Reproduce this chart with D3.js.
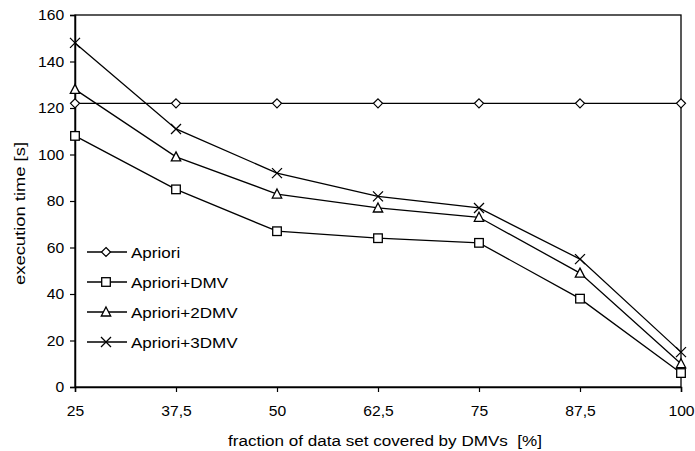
<!DOCTYPE html>
<html>
<head>
<meta charset="utf-8">
<script src="https://cdn.jsdelivr.net/npm/d3@7"></script>
<style>
  body { margin: 0; background: #fff; }
  text { font-family: "Liberation Sans", Arial, sans-serif; fill: #000; }
</style>
</head>
<body>
<div id="chart"></div>
<script>
var fractions = ["25", "37,5", "50", "62,5", "75", "87,5", "100"];
var apriori = [122, 122, 122, 122, 122, 122, 122];
var aprioriDMV = [108, 85, 67, 64, 62, 38, 6];
var apriori2DMV = [128, 99, 83, 77, 73, 49, 10];
var apriori3DMV = [148, 111, 92, 82, 77, 55, 15];
var yTicks = [0, 20, 40, 60, 80, 100, 120, 140, 160];

var series = [
    { name: "Apriori", values: apriori, marker: "diamond" },
    { name: "Apriori+DMV", values: aprioriDMV, marker: "square" },
    { name: "Apriori+2DMV", values: apriori2DMV, marker: "triangle" },
    { name: "Apriori+3DMV", values: apriori3DMV, marker: "cross" }
];

var svgWidth = 695;
var svgHeight = 451;
var margin = { top: 15, right: 14, bottom: 64, left: 75 };
var width = svgWidth - margin.left - margin.right;
var height = svgHeight - margin.top - margin.bottom;

var svg = d3.select("#chart")
    .append("svg")
    .attr("width", svgWidth)
    .attr("height", svgHeight);

var chartGroup = svg.append("g")
    .attr("transform", `translate(${margin.left}, ${margin.top})`);

var xScale = d3.scalePoint()
    .domain(fractions)
    .range([0, width]);

var yScale = d3.scaleLinear()
    .domain([0, 160])
    .range([height, 0]);

// frame on top and right
chartGroup.append("rect")
    .attr("width", width)
    .attr("height", height)
    .attr("fill", "none")
    .attr("stroke", "#000")
    .attr("stroke-width", 1.3);

var xAxis = chartGroup.append("g")
    .attr("transform", `translate(0, ${height})`)
    .call(d3.axisBottom(xScale).tickSize(5).tickPadding(14));

var yAxis = chartGroup.append("g")
    .call(d3.axisLeft(yScale).tickValues(yTicks).tickSize(5).tickPadding(5));

[xAxis, yAxis].forEach(function (ax) {
    ax.select(".domain").attr("stroke-width", 1.5);
    ax.selectAll(".tick line").attr("stroke-width", 1.2);
    ax.selectAll("text")
        .attr("font-size", "14.5px")
        .attr("font-family", "Liberation Sans, Arial, sans-serif")
        .attr("fill", "#000")
        .attr("transform", "scale(1.08,1)");
});

function drawMarker(g, type, x, y) {
    if (type === "diamond") {
        g.append("path")
            .attr("d", `M${x},${y - 4.5}L${x + 4.5},${y}L${x},${y + 4.5}L${x - 4.5},${y}Z`)
            .attr("fill", "#fff").attr("stroke", "#000").attr("stroke-width", 1.2);
    } else if (type === "square") {
        g.append("rect")
            .attr("x", x - 4.3).attr("y", y - 4.3)
            .attr("width", 8.6).attr("height", 8.6)
            .attr("fill", "#fff").attr("stroke", "#000").attr("stroke-width", 1.3);
    } else if (type === "triangle") {
        g.append("path")
            .attr("d", `M${x},${y - 5}L${x + 4.7},${y + 4}L${x - 4.7},${y + 4}Z`)
            .attr("fill", "#fff").attr("stroke", "#000").attr("stroke-width", 1.3);
    } else {
        g.append("path")
            .attr("d", `M${x - 5},${y - 5}L${x + 5},${y + 5}M${x - 5},${y + 5}L${x + 5},${y - 5}`)
            .attr("fill", "none").attr("stroke", "#000").attr("stroke-width", 1.3);
    }
}

var line = d3.line()
    .x((d, i) => xScale(fractions[i]))
    .y(d => yScale(d));

series.forEach(function (s) {
    chartGroup.append("path")
        .datum(s.values)
        .attr("d", line)
        .attr("fill", "none")
        .attr("stroke", "#000")
        .attr("stroke-width", 1.3);
});

series.forEach(function (s) {
    var g = chartGroup.append("g");
    s.values.forEach(function (v, i) {
        drawMarker(g, s.marker, xScale(fractions[i]), yScale(v));
    });
});

// legend
var legend = svg.append("g")
    .attr("transform", "translate(87, 252)");

series.forEach(function (s, i) {
    var row = legend.append("g").attr("transform", `translate(0, ${i * 30})`);
    row.append("line")
        .attr("x1", 0).attr("x2", 40)
        .attr("y1", 0).attr("y2", 0)
        .attr("stroke", "#000").attr("stroke-width", 1.3);
    drawMarker(row, s.marker, 19, 0);
    row.append("g")
        .attr("transform", "translate(44, 5.5)")
        .append("text")
        .attr("transform", "scale(1.1,1)")
        .attr("font-size", "15.5px")
        .text(s.name);
});

// axis titles
svg.append("text")
    .attr("x", 228)
    .attr("y", 446)
    .attr("font-size", "15.5px")
    .attr("xml:space", "preserve")
    .attr("textLength", 314)
    .attr("lengthAdjust", "spacingAndGlyphs")
    .text("fraction of data set covered by DMVs  [%]");

svg.append("text")
    .attr("transform", "translate(25, 285) rotate(-90)")
    .attr("font-size", "15px")
    .attr("textLength", 143)
    .attr("lengthAdjust", "spacingAndGlyphs")
    .text("execution time [s]");
</script>
</body>
</html>
